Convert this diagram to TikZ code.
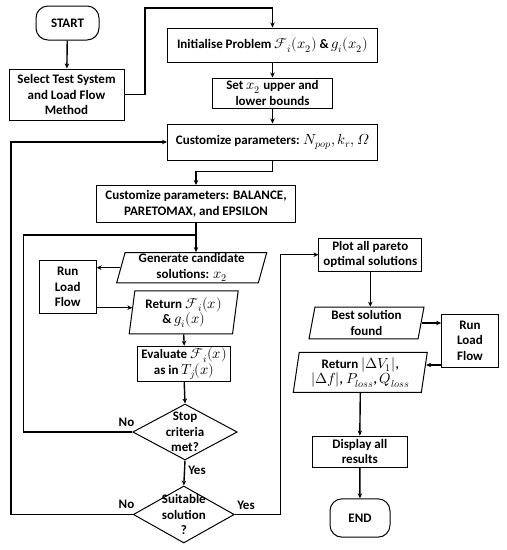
\documentclass[tikz,border=0pt]{standalone}
\usepackage{fontspec}
\usepackage{unicode-math}
\setmainfont{Carlito}
\setmathfont{Latin Modern Math}[Scale=1.12]
\usetikzlibrary{shapes.geometric,arrows.meta}
\newcommand{\fsz}{\fontsize{13}{15.5}\selectfont\bfseries}
\tikzset{
  box/.style={draw, line width=1pt, rectangle, inner sep=1pt, align=center, font=\fsz},
  term/.style={box, rounded corners=12pt},
  para/.style={draw, line width=1pt, trapezium, trapezium stretches body, inner sep=1pt, align=center, font=\fsz},
  dia/.style={draw, line width=1pt, diamond, inner sep=0pt, label={[align=center,font=\fsz]center:#1}},
  conn/.style={line width=1.4pt},
  arr/.style={conn, -{Stealth[length=5pt,width=4.5pt]}},
  lbl/.style={font=\fsz, inner sep=0pt}
}
\begin{document}
\begin{tikzpicture}[x=1pt,y=-1pt]
\useasboundingbox (0,0) rectangle (507,550);
% nodes
\node[term, minimum width=63pt, minimum height=34pt] (start) at (67.5,23) {START};
\node[box, minimum width=115pt, minimum height=51pt] (select) at (66.5,94.5) {Select Test System\\and Load Flow\\Method};
\node[box, minimum width=210pt, minimum height=34pt] (init) at (272.5,45) {Initialise Problem $\mathcal{F}_i(x_2)$ \& $\mathscr{g}_i(x_2)$};
\node[box, minimum width=120pt, minimum height=30pt] (setb) at (272.5,93) {Set $x_2$ upper and\\lower bounds};
\node[box, minimum width=210pt, minimum height=36pt] (cust1) at (272.5,142) {Customize parameters: $N_{pop}, k_r, \symit{Ω}$};
\node[box, minimum width=198.6pt, minimum height=37pt] (cust2) at (196,204) {Customize parameters: BALANCE,\\PARETOMAX, and EPSILON};
\node[para, trapezium left angle=74.5, trapezium right angle=105.5, minimum width=150pt, minimum height=30pt] (gen) at (191.7,267.7) {Generate candidate\\solutions: $x_2$};
\node[box, minimum width=56.7pt, minimum height=53.3pt] (run1) at (67.7,287.3) {Run\\Load\\Flow};
\node[para, trapezium left angle=80, trapezium right angle=100, minimum width=109pt, minimum height=43pt] (ret1) at (183.7,312.3) {Return $\mathcal{F}_i(x)$\\\& $\mathscr{g}_i(x)$};
\node[box, minimum width=93pt, minimum height=35pt] (eval) at (184.2,363.7) {Evaluate $\mathcal{F}_i(x)$\\as in $T_j(x)$};
\node[dia={Stop\\criteria\\met?}, minimum width=104.6pt, minimum height=56pt] (stop) at (185,432) {};
\node[dia={Suitable\\solution\\?}, minimum width=101pt, minimum height=57pt] (suit) at (183.8,514.5) {};
\node[box, minimum width=102.7pt, minimum height=32.7pt] (plot) at (370.3,254.7) {Plot all pareto\\optimal solutions};
\node[para, trapezium left angle=77.5, trapezium right angle=102.5, minimum width=115pt, minimum height=31.7pt] (best) at (366.5,323) {Best solution\\found};
\node[box, minimum width=56.7pt, minimum height=53pt] (run2) at (470,340.8) {Run\\Load\\Flow};
\node[para, trapezium left angle=79.5, trapezium right angle=100.5, minimum width=134pt, minimum height=40pt] (ret2) at (360.3,372.3) {Return $|\Delta V_1|$,\\$|\Delta f|$, $P_{loss}$, $Q_{loss}$};
\node[box, minimum width=95pt, minimum height=31.3pt] (disp) at (359.8,451.7) {Display all\\results};
\node[term, minimum width=60pt, minimum height=38.3pt] (endn) at (360,518) {END};
% coordinates
\coordinate (j1) at (196,235);
% connectors
\draw[arr] (start) -- (select);
\draw[arr] (select.east) -- (145,94.5) -- (145,8) -- (272.5,8) -- (init.north);
\draw[arr] (init) -- (setb);
\draw[arr] (setb) -- (cust1);
\draw[arr] (cust1.south) -- (272.5,171.7) -- (196,171.7) -- (cust2.north);
\draw[arr] (cust2.south) -- (cust2.south |- gen.north);
\draw[conn] (stop.west) -- (23.3,432) -- (23.3,235) -- (j1);
\draw[arr] (gen.west) -- (gen.west -| run1.east);
\draw[arr] ([yshift=-20.4pt]run1.east) -- ([yshift=-20.4pt,xshift=0.8pt]run1.east -| ret1.west);
\draw[arr] (ret1.south) -- (eval.north);
\draw[arr] (eval.south) -- (stop.north);
\draw[arr] (stop.south) -- (suit.north);
\draw[arr] (suit.west) -- (11,514.5) -- (11,142) -- (cust1.west);
\draw[arr] (suit.east) -- (280.5,514.5) -- (280.5,254.7) -- (plot.west);
\draw[arr] (plot.south) -- (plot.south |- best.north);
\draw[arr] (best.east) -- (best.east -| run2.west);
\draw[arr] ([yshift=-24.2pt]run2.west) -- ([yshift=-24.2pt,xshift=1.3pt]run2.west -| ret2.east);
\draw[arr] (ret2.south) -- (disp.north);
\draw[arr] (disp) -- (endn);
% labels
\node[lbl] (no1) at (126.5,422) {No};
\node[lbl] (yes1) at (197,470) {Yes};
\node[lbl] (no2) at (126.5,504.3) {No};
\node[lbl] (yes2) at (246,505.7) {Yes};
\end{tikzpicture}
\end{document}
